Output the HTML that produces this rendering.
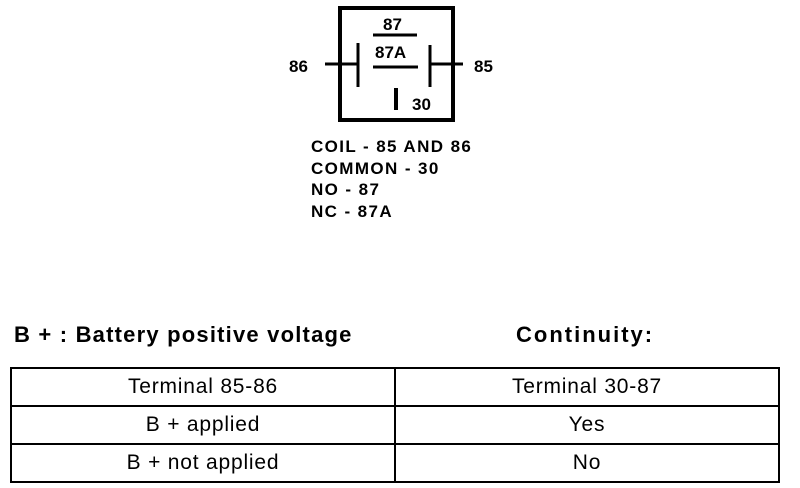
<!DOCTYPE html><html><head><style>
body{margin:0;width:800px;height:488px;background:#fff;position:relative;overflow:hidden;font-family:"Liberation Sans",sans-serif;color:#000}
.a{position:absolute;white-space:nowrap}
.b{font-weight:bold}
table{position:absolute;left:10px;top:367px;width:770px;border-collapse:collapse}
td{border:2px solid #000;height:36px;text-align:center;font-size:21px;letter-spacing:0.8px;width:50%;padding:0}
</style></head><body>
<svg width="800" height="140" style="position:absolute;left:0;top:0">
<rect x="340" y="8" width="113" height="112" fill="none" stroke="#000" stroke-width="4"/>
<line x1="325" y1="64" x2="358" y2="64" stroke="#000" stroke-width="3"/>
<line x1="358" y1="43" x2="358" y2="87" stroke="#000" stroke-width="3"/>
<line x1="430" y1="45" x2="430" y2="87" stroke="#000" stroke-width="3"/>
<line x1="430" y1="64" x2="463" y2="64" stroke="#000" stroke-width="3"/>
<line x1="373" y1="35" x2="417" y2="35" stroke="#000" stroke-width="3"/>
<line x1="373" y1="67" x2="418" y2="67" stroke="#000" stroke-width="3"/>
<line x1="396" y1="88" x2="396" y2="110" stroke="#000" stroke-width="4"/>
<text x="383" y="30" font-size="17" font-weight="bold" font-family="Liberation Sans">87</text>
<text x="375" y="58" font-size="17" font-weight="bold" font-family="Liberation Sans">87A</text>
<text x="412" y="110" font-size="17" font-weight="bold" font-family="Liberation Sans">30</text>
<text x="289" y="72" font-size="17" font-weight="bold" font-family="Liberation Sans">86</text>
<text x="474" y="72" font-size="17" font-weight="bold" font-family="Liberation Sans">85</text>
</svg>
<div class="a b" style="left:311px;top:136px;font-size:17px;line-height:21.5px;letter-spacing:1.4px">COIL - 85 AND 86<br>COMMON - 30<br>NO - 87<br>NC - 87A</div>
<div class="a b" style="left:14px;top:322px;font-size:22px;letter-spacing:1.2px">B + : Battery positive voltage</div>
<div class="a b" style="left:516px;top:322px;font-size:22px;letter-spacing:2px">Continuity:</div>
<table><tr><td>Terminal 85-86</td><td>Terminal 30-87</td></tr>
<tr><td>B + applied</td><td>Yes</td></tr>
<tr><td>B + not applied</td><td>No</td></tr></table>
</body></html>
